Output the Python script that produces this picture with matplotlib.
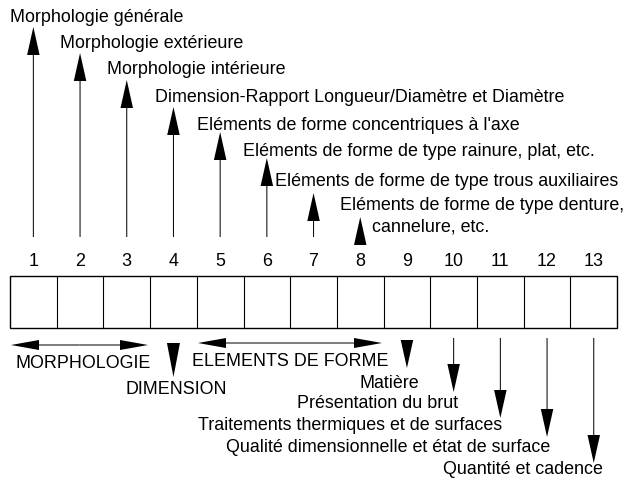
import numpy as np
import matplotlib
matplotlib.use('Agg')
import matplotlib.pyplot as plt
from matplotlib.patches import Rectangle

plt.rcParams['font.family'] = ['Liberation Sans', 'DejaVu Sans']

# cases 1..13
positions = np.arange(1, 14)

# fleches montantes (cases 1 a 8): ordonnee de la pointe (px depuis le haut)
up_tips = [27, 53, 80, 107, 132, 158, 193, 217]
up_labels = ['Morphologie générale',
             'Morphologie extérieure',
             'Morphologie intérieure',
             'Dimension-Rapport Longueur/Diamètre et Diamètre',
             "Eléments de forme concentriques à l'axe",
             'Eléments de forme de type rainure, plat, etc.',
             'Eléments de forme de type trous auxiliaires',
             'Eléments de forme de type denture,',
             'cannelure, etc.']
up_label_xy = [(10, 18), (60, 44), (107, 70), (155, 98), (197, 125),
               (243, 152), (275, 181), (340, 206), (372, 227)]

# fleches descendantes (cases 9 a 13)
down_pos = [9, 10, 11, 12, 13]
down_tips = [368, 392, 418, 437, 463]
down_labels = ['Matière', 'Présentation du brut',
               'Traitements thermiques et de surfaces',
               'Qualité dimensionnelle et état de surface',
               'Quantité et cadence']
down_label_xy = [(389, 383), (378, 404), (350, 425), (388, 448), (523, 470)]

fig = plt.figure(figsize=(6.26, 4.8), dpi=100)
ax = fig.add_axes([0, 0, 1, 1])
ax.set_xlim(0, 626)
ax.set_ylim(480, 0)
ax.axis('off')

x0, cw = 10, 46.7
box_top, box_bot = 276, 328
cx = x0 + cw * (positions - 0.5)

fs = 12.85
hw, hl = 12.5, 28
kw = dict(color='black', length_includes_head=True, head_width=hw,
          head_length=hl, width=1.0, lw=0)

# boite a 13 cases
ax.add_patch(Rectangle((x0, box_top), cw * 13, box_bot - box_top,
                       fill=False, lw=1.0, ec='black'))
for i in positions[:-1]:
    xe = x0 + cw * i
    ax.plot([xe, xe], [box_top, box_bot], color='black', lw=0.8)
for i, x in zip(positions, cx):
    ax.text(x, 262, str(i), ha='center', va='center', fontsize=fs)

# fleches montantes
for i, tip in zip(positions[:8], up_tips):
    x = cx[i - 1]
    base = 237 if i < 8 else tip + hl
    ax.arrow(x, base, 0, tip - base, **kw)
for lab, (tx, ty) in zip(up_labels, up_label_xy):
    ax.text(tx, ty, lab, ha='left', va='center', fontsize=fs)

# fleches descendantes
for p, tip in zip(down_pos, down_tips):
    x = cx[p - 1]
    base = 338 if p > 9 else tip - hl
    ax.arrow(x, base, 0, tip - base, **kw)
for lab, (tx, ty) in zip(down_labels, down_label_xy):
    ax.text(tx, ty, lab, ha='center', va='center', fontsize=fs)

# groupes
def double_arrow(xa, xb, y):
    m = (xa + xb) / 2
    ax.arrow(m, y, xa - m, 0, color='black', length_includes_head=True,
             head_width=10, head_length=28, width=1.0, lw=0)
    ax.arrow(m, y, xb - m, 0, color='black', length_includes_head=True,
             head_width=10, head_length=28, width=1.0, lw=0)

double_arrow(11, 148, 345)
ax.text(83, 363, 'MORPHOLOGIE', ha='center', va='center', fontsize=fs)
ax.arrow(cx[3], 343, 0, 34, color='black', length_includes_head=True,
         head_width=13, head_length=34, width=1.0, lw=0)
ax.text(176, 390, 'DIMENSION', ha='center', va='center', fontsize=fs)
double_arrow(198, 382, 343)
ax.text(290, 361, 'ELEMENTS DE FORME', ha='center', va='center', fontsize=fs)

fig.savefig('out.png', dpi=100, facecolor='white')
